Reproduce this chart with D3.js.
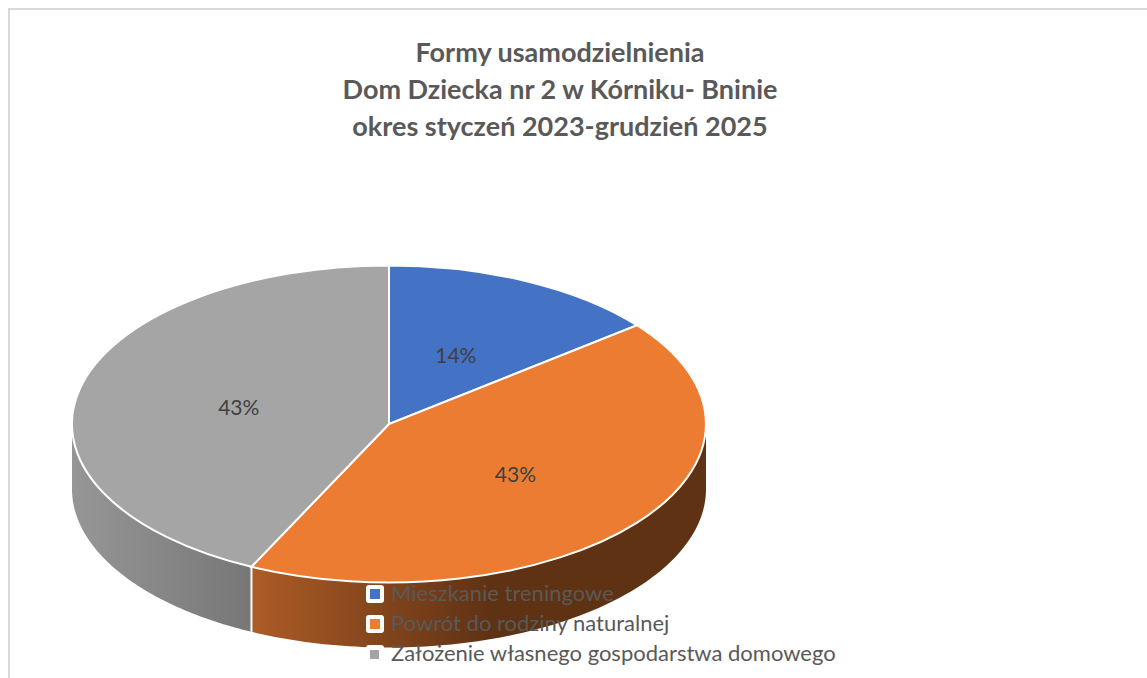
<!DOCTYPE html>
<html>
<head>
<meta charset="utf-8">
<script src="https://cdn.jsdelivr.net/npm/d3@7"></script>
<style>
  html, body { margin: 0; padding: 0; background: #fff; overflow: hidden; }
  text { font-family: Lato, "Open Sans", sans-serif; }
</style>
</head>
<body>
<svg id="chart" width="1147" height="678"></svg>
<script>
// Chart data
var titleLines = ['Formy usamodzielnienia', 'Dom Dziecka nr 2 w Kórniku- Bninie', 'okres styczeń 2023-grudzień 2025'];
var categories = ['Mieszkanie treningowe', 'Powrót do rodziny naturalnej', 'Założenie własnego gospodarstwa domowego'];
var values = [1, 3, 3];
var topColors = ['#4472c4', '#eb7c31', '#a5a5a5'];
var sideColors = [['#2f5597', '#2f5597'], ['#ad5c26', '#5f3214'], ['#969696', '#777777']];

var svg = d3.select('#chart');
var defs = svg.append('defs');

// Unit circle is projected to the tilted ellipse with two scales
var x = d3.scaleLinear().domain([-1, 1]).range([72, 706]);
var y = d3.scaleLinear().domain([-1, 1]).range([265.5, 582.5]);
var depth = 65;

var slices = d3.pie().sort(null).value(function(d){ return d; })(values);

function rimPoint(angle){
  return [x(Math.sin(angle)), y(-Math.cos(angle))];
}

// Frame of the original chart (only top and left are visible)
svg.append('path')
    .attr('d', 'M9,678V9H1147')
    .attr('fill', 'none')
    .attr('stroke', '#d9d9d9')
    .attr('stroke-width', 2);

// Title
svg.selectAll('.title')
    .data(titleLines)
    .enter()
    .append('text')
    .attr('class', 'title')
    .attr('x', 560)
    .attr('y', function(d, i){ return 62 + i * 37; })
    .attr('text-anchor', 'middle')
    .attr('font-size', 27)
    .attr('font-weight', 700)
    .attr('fill', '#595959')
    .text(function(d){ return d; });

// Side walls: only the part of the rim facing the viewer
var wallSteps = d3.range(0, 1.0001, 0.01);
slices.forEach(function(s, i){
  var from = Math.max(s.startAngle, Math.PI / 2);
  var to = Math.min(s.endAngle, Math.PI * 1.5);
  if (from >= to) return;

  var angles = wallSteps.map(function(t){ return from + (to - from) * t; });
  var upper = angles.map(rimPoint);
  var lower = upper.slice().reverse().map(function(p){ return [p[0], p[1] + depth]; });

  var grad = defs.append('linearGradient')
      .attr('id', 'wall' + i)
      .attr('gradientUnits', 'userSpaceOnUse')
      .attr('x1', i == 1 ? 251 : 72).attr('y1', 0)
      .attr('x2', i == 1 ? 490 : 251).attr('y2', 0);
  grad.append('stop').attr('offset', 0).attr('stop-color', sideColors[i][0]);
  grad.append('stop').attr('offset', 1).attr('stop-color', sideColors[i][1]);

  svg.append('path')
      .attr('d', d3.line()(upper.concat(lower)) + 'Z')
      .attr('fill', 'url(#wall' + i + ')');
});

// White seam on the wall between orange and grey
var seam = rimPoint(slices[2].startAngle);
svg.append('line')
    .attr('x1', seam[0]).attr('x2', seam[0])
    .attr('y1', seam[1]).attr('y2', seam[1] + depth)
    .attr('stroke', '#fff')
    .attr('stroke-width', 2);

// Top face
var arc = d3.arc().innerRadius(0).outerRadius(1);
svg.append('g')
    .attr('transform', 'translate(' + x(0) + ',' + y(0) + ') scale(' + (x(1) - x(0)) + ',' + (y(1) - y(0)) + ')')
    .selectAll('path')
    .data(slices)
    .enter()
    .append('path')
    .attr('d', arc)
    .attr('fill', function(d, i){ return topColors[i]; })
    .attr('stroke', '#fff')
    .attr('stroke-width', 2)
    .attr('vector-effect', 'non-scaling-stroke');

// Percent labels
var total = d3.sum(values);
var pct = d3.format('.0%');
var labelRadius = [0.486, 0.51, 0.486];
svg.selectAll('.pct')
    .data(slices)
    .enter()
    .append('text')
    .attr('class', 'pct')
    .attr('x', function(d, i){ return x(labelRadius[i] * Math.sin((d.startAngle + d.endAngle) / 2)); })
    .attr('y', function(d, i){ return y(-labelRadius[i] * Math.cos((d.startAngle + d.endAngle) / 2)) + 8; })
    .attr('text-anchor', 'middle')
    .attr('font-size', 21)
    .attr('fill', '#404040')
    .text(function(d){ return pct(d.value / total); });

// Legend sits on top of the pie, like in the original
var legend = svg.selectAll('.legend')
    .data(categories)
    .enter()
    .append('g')
    .attr('class', 'legend')
    .attr('transform', function(d, i){ return 'translate(366,' + [585, 615, 645][i] + ')'; });

legend.append('rect')
    .attr('width', 18).attr('height', 18).attr('rx', 3)
    .attr('fill', '#fff');

legend.append('rect')
    .attr('x', 4).attr('y', function(d, i){ return i == 2 ? 5 : 4; })
    .attr('width', function(d, i){ return i == 2 ? 9 : 10; })
    .attr('height', function(d, i){ return i == 2 ? 9 : 10; })
    .attr('fill', function(d, i){ return topColors[i]; });

legend.append('text')
    .attr('x', 25).attr('y', 16)
    .attr('font-size', 22)
    .attr('fill', '#595959')
    .text(function(d){ return d; });
</script>
</body>
</html>
